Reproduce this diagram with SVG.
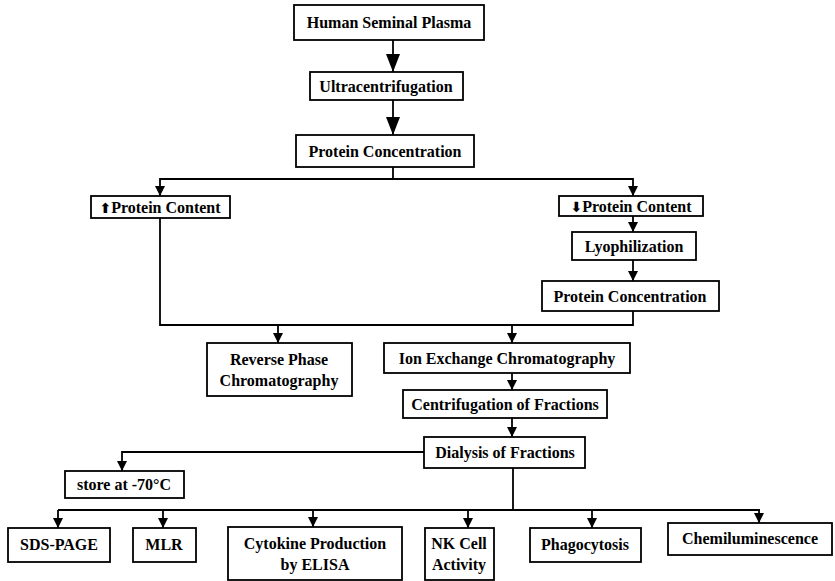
<svg xmlns="http://www.w3.org/2000/svg" width="835" height="581" viewBox="0 0 835 581">
  <style>
    .box { fill: #ffffff; stroke: #000000; stroke-width: 1.8; }
    .lbl { font-family: "Liberation Serif", "Times New Roman", serif; font-weight: bold; font-size: 16px; fill: #000000; text-anchor: middle; }
    .sym { font-family: "DejaVu Sans", sans-serif; font-size: 14px; }
    .wire { fill: none; stroke: #000000; stroke-width: 1.8; }
    .arr { marker-end: url(#head); }
    .arrBig { marker-end: url(#headBig); }
  </style>
  <defs>
    <marker id="head" markerUnits="userSpaceOnUse" markerWidth="10" markerHeight="11" refX="10" refY="5" orient="auto">
      <path d="M0,0 L10,5 L0,10 Z" fill="#000000"/>
    </marker>
    <marker id="headBig" markerUnits="userSpaceOnUse" markerWidth="18" markerHeight="14" refX="18" refY="7" orient="auto">
      <path d="M0,0 L18,7 L0,14 Z" fill="#000000"/>
    </marker>
  </defs>

  <rect width="835" height="581" fill="#ffffff"/>

  <!-- connectors -->
  <g id="connectors">
    <path class="wire arrBig" d="M393,40 V72"/>
    <path class="wire arrBig" d="M393,100 V135"/>
    <path class="wire" d="M393,167 V179"/>
    <path class="wire arr" d="M393,179 H160 V196"/>
    <path class="wire arr" d="M393,179 H633 V196"/>
    <path class="wire arr" d="M633,216 V232"/>
    <path class="wire arr" d="M633,260 V281"/>
    <path class="wire" d="M160,218 V325 H633 V311"/>
    <path class="wire arr" d="M278,325 V343"/>
    <path class="wire arr" d="M512,325 V343"/>
    <path class="wire arr" d="M512,373 V390"/>
    <path class="wire arr" d="M512,418 V437"/>
    <path class="wire arr" d="M424,452 H122 V471"/>
    <path class="wire" d="M513,468 V510"/>
    <path class="wire" d="M58,510 H760"/>
    <path class="wire arr" d="M58,510 V528"/>
    <path class="wire arr" d="M163,510 V528"/>
    <path class="wire arr" d="M313,510 V527"/>
    <path class="wire arr" d="M468,510 V528"/>
    <path class="wire arr" d="M592,510 V528"/>
    <path class="wire arr" d="M759,510 V523"/>
  </g>

  <!-- nodes -->
  <g id="human-seminal-plasma">
    <rect class="box" x="294" y="5" width="190" height="35"/>
    <text class="lbl" x="389" y="28">Human Seminal Plasma</text>
  </g>
  <g id="ultracentrifugation">
    <rect class="box" x="310" y="72" width="153" height="28"/>
    <text class="lbl" x="386" y="92">Ultracentrifugation</text>
  </g>
  <g id="protein-concentration-1">
    <rect class="box" x="296" y="135" width="178" height="32"/>
    <text class="lbl" x="385" y="157">Protein Concentration</text>
  </g>
  <g id="high-protein">
    <rect class="box" x="91" y="196" width="139" height="22"/>
    <text class="lbl" x="160" y="213"><tspan class="sym">⬆</tspan>Protein Content</text>
  </g>
  <g id="low-protein">
    <rect class="box" x="559" y="196" width="144" height="20"/>
    <text class="lbl" x="631" y="212"><tspan class="sym">⬇</tspan>Protein Content</text>
  </g>
  <g id="lyophilization">
    <rect class="box" x="572" y="232" width="124" height="28"/>
    <text class="lbl" x="634" y="252">Lyophilization</text>
  </g>
  <g id="protein-concentration-2">
    <rect class="box" x="542" y="281" width="177" height="30"/>
    <text class="lbl" x="630" y="302">Protein Concentration</text>
  </g>
  <g id="reverse-phase">
    <rect class="box" x="207" y="343" width="145" height="53"/>
    <text class="lbl" x="279" y="365">Reverse Phase</text>
    <text class="lbl" x="279" y="386">Chromatography</text>
  </g>
  <g id="ion-exchange">
    <rect class="box" x="384" y="343" width="246" height="30"/>
    <text class="lbl" x="507" y="364">Ion Exchange Chromatography</text>
  </g>
  <g id="centrifugation-fractions">
    <rect class="box" x="403" y="390" width="204" height="28"/>
    <text class="lbl" x="505" y="410">Centrifugation of Fractions</text>
  </g>
  <g id="dialysis-fractions">
    <rect class="box" x="424" y="437" width="161" height="31"/>
    <text class="lbl" x="505" y="458">Dialysis of Fractions</text>
  </g>
  <g id="store">
    <rect class="box" x="65" y="471" width="119" height="27"/>
    <text class="lbl" x="124" y="490">store at -70°C</text>
  </g>
  <g id="sds-page">
    <rect class="box" x="8" y="528" width="102" height="34"/>
    <text class="lbl" x="59" y="550">SDS-PAGE</text>
  </g>
  <g id="mlr">
    <rect class="box" x="133" y="528" width="63" height="34"/>
    <text class="lbl" x="164" y="550">MLR</text>
  </g>
  <g id="cytokine">
    <rect class="box" x="228" y="527" width="174" height="53"/>
    <text class="lbl" x="315" y="549">Cytokine Production</text>
    <text class="lbl" x="315" y="570">by ELISA</text>
  </g>
  <g id="nk-cell">
    <rect class="box" x="425" y="528" width="69" height="52"/>
    <text class="lbl" x="459" y="549">NK Cell</text>
    <text class="lbl" x="459" y="570">Activity</text>
  </g>
  <g id="phagocytosis">
    <rect class="box" x="530" y="528" width="111" height="34"/>
    <text class="lbl" x="585" y="550">Phagocytosis</text>
  </g>
  <g id="chemiluminescence">
    <rect class="box" x="668" y="523" width="164" height="32"/>
    <text class="lbl" x="750" y="544">Chemiluminescence</text>
  </g>
</svg>
